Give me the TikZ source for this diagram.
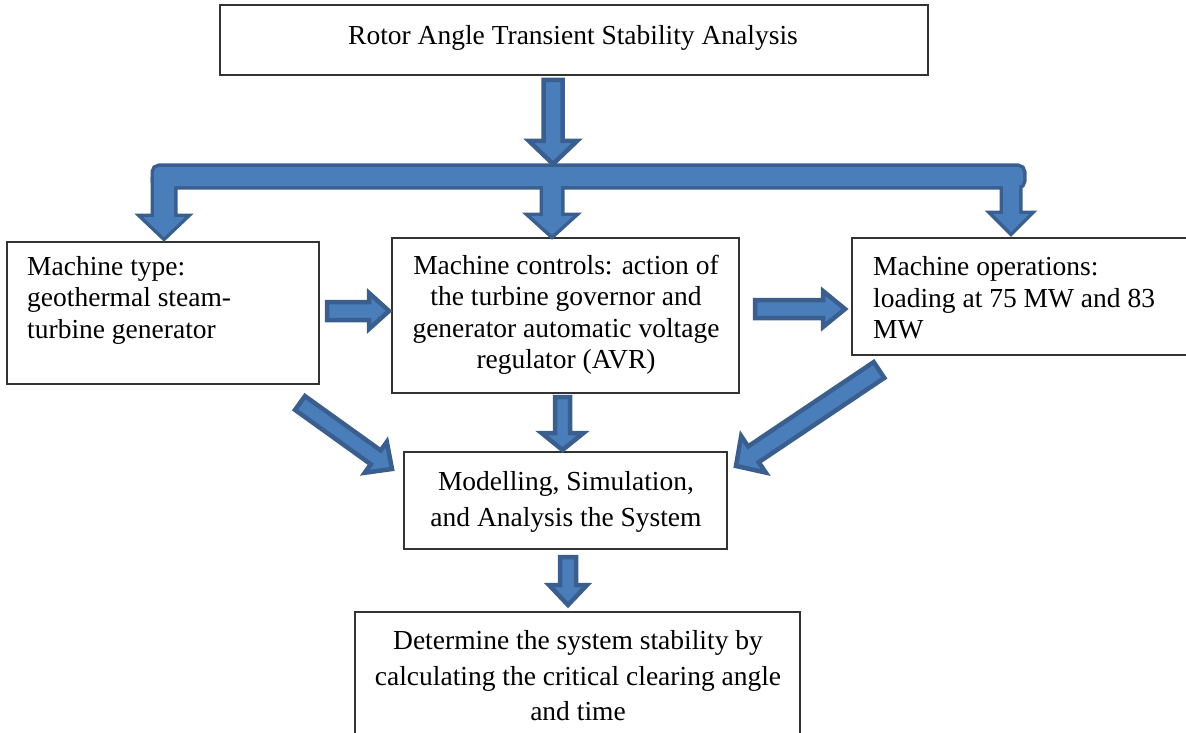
\documentclass[tikz,border=0pt]{standalone}
\usepackage{fontspec}
\setmainfont{Liberation Serif}
\usetikzlibrary{calc}
\definecolor{afill}{HTML}{4A7EBB}
\definecolor{aline}{HTML}{3A5F8E}
\definecolor{bline}{HTML}{333333}
\tikzset{
  box/.style={draw=bline, line width=1.8pt, rectangle, inner sep=0pt},
  txt/.style={inner sep=0pt, font=\fontsize{27.5}{31.5}\selectfont},
  txtb/.style={inner sep=0pt, font=\fontsize{27.5}{35.5}\selectfont},
  arr/.style={fill=afill, draw=aline, line width=4.5pt, line join=miter, miter limit=3},
  passone/.style={draw=aline, line width=7pt, line join=miter},
  passtwo/.style={fill=afill},
}
\newcommand\blockarrow[5]{%
  \coordinate (bhC) at ($(#2)!#5!(#1)$);
  \filldraw[arr] ($(#1)!#3!90:(#2)$) -- ($(bhC)!#3!90:(#2)$) -- ($(bhC)!#4!90:(#2)$) -- (#2)
    -- ($(bhC)!#4!-90:(#2)$) -- ($(bhC)!#3!-90:(#2)$) -- ($(#1)!#3!-90:(#2)$) -- cycle;
}
\begin{document}
\begin{tikzpicture}[x=1pt,y=-1pt]
\useasboundingbox (0,0) rectangle (1186,733);
% boxes
\node[box, minimum width=708pt, minimum height=70pt] (top) at (574,40) {};
\node[txt] (topT) at (573,37.5) {Rotor Angle Transient Stability Analysis};
\node[box, minimum width=312pt, minimum height=142pt] (type) at (163,313) {};
\node[txt, align=left, anchor=west] (typeT) at (27,300) {Machine type:\\geothermal steam-\\turbine generator};
\node[box, minimum width=347pt, minimum height=155pt] (ctrl) at (565.5,315.5) {};
\node[txt, align=center] (ctrlT) at (566,315) {Machine controls: action of\\the turbine governor and\\generator automatic voltage\\regulator (AVR)};
\node[box, minimum width=350pt, minimum height=117pt] (oper) at (1027,296.5) {};
\node[txt, align=left, anchor=west] (operT) at (873,298) {Machine operations:\\loading at 75 MW and 83\\MW};
\node[box, minimum width=323pt, minimum height=97pt] (model) at (565.5,500.5) {};
\node[txtb, align=center] (modelT) at (566,502) {Modelling, Simulation,\\and Analysis the System};
\node[box, minimum width=445pt, minimum height=140pt] (res) at (577.5,682) {};
\node[txtb, align=center] (resT) at (578,676) {Determine the system stability by\\calculating the critical clearing angle\\and time};
% top arrow
\coordinate (a1s) at (553,80);
\coordinate (a1e) at (553,164);
\blockarrow{a1s}{a1e}{9.5pt}{24pt}{23pt}
% distribution bar with three down arrows (merged outline)
\coordinate (bLe) at (164,237);
\coordinate (bMe) at (552,235);
\coordinate (bRe) at (1011,232);
\foreach \st in {passone,passtwo}{
  \path[\st, rounded corners=5pt] (154,167) rectangle (1023,186);
  \path[\st] (154,180) -- (154,217) -- (143,217) -- (bLe) -- (185,217) -- (174,217) -- (174,180) -- cycle;
  \path[\st] (543,180) -- (543,216) -- (531,216) -- (bMe) -- (573,216) -- (561,216) -- (561,180) -- cycle;
  \path[\st] (1003,180) -- (1003,214) -- (993,214) -- (bRe) -- (1029,214) -- (1019,214) -- (1019,180) -- cycle;
}
% horizontal arrows
\coordinate (h1s) at (327,311);
\coordinate (h1e) at (389,311);
\blockarrow{h1s}{h1e}{9pt}{18pt}{20pt}
\coordinate (h2s) at (755,309);
\coordinate (h2e) at (845,309);
\blockarrow{h2s}{h2e}{9pt}{18pt}{22pt}
% down arrows to modelling
\coordinate (d1s) at (562.5,397);
\coordinate (d1e) at (562.5,450);
\blockarrow{d1s}{d1e}{7.5pt}{21pt}{17pt}
\coordinate (l1s) at (300,403);
\coordinate (l1e) at (392,469);
\blockarrow{l1s}{l1e}{8.5pt}{19pt}{20pt}
\coordinate (r1s) at (879,370);
\coordinate (r1e) at (736,466);
\blockarrow{r1s}{r1e}{9.5pt}{22pt}{21pt}
% modelling to result
\coordinate (m1s) at (568,557);
\coordinate (m1e) at (568,605);
\blockarrow{m1s}{m1e}{8pt}{19pt}{20pt}
\end{tikzpicture}
\end{document}
